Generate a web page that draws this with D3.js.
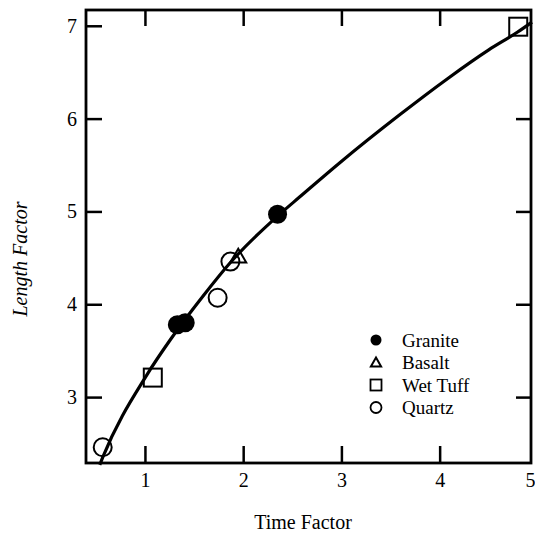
<!DOCTYPE html>
<html><head><meta charset="utf-8">
<script src="https://cdn.jsdelivr.net/npm/d3@7"></script>
<style>body{margin:0;background:#fff}svg{display:block}</style>
</head><body>
<svg id="c" width="535" height="538"></svg>
<script>
// ---- data ----
const xTicks = [1, 2, 3, 4, 5];
const yTicks = [3, 4, 5, 6, 7];
const topTicks = [1, 2, 3, 4];
const rightTicks = [3, 4, 5, 6];
const seriesNames = ["Granite", "Basalt", "Wet Tuff", "Quartz"];
const graniteX = [1.33, 1.41, 2.35];
const graniteY = [3.78, 3.80, 4.97];
const basaltX = [1.95];
const basaltY = [4.50];
const wetTuffX = [1.08, 4.80];
const wetTuffY = [3.21, 6.99];
const quartzX = [0.57, 1.74, 1.87];
const quartzY = [2.46, 4.07, 4.46];
const fitX = [0.54, 0.57, 1.02, 1.26, 1.60, 1.87, 2.35, 2.58, 2.99, 3.58, 4.08, 4.50, 4.79, 4.94];
const fitY = [2.27, 2.35, 3.24, 3.62, 4.10, 4.45, 4.95, 5.16, 5.53, 6.03, 6.43, 6.74, 6.93, 7.04];

const svg = d3.select("#c");
const x = d3.scaleLinear().domain([0.4, 4.93]).range([86, 531]);
const y = d3.scaleLinear().domain([2.29, 7.17]).range([463, 10]);
const FONT = "'Liberation Serif', 'Times New Roman', serif";

// frame
svg.append("rect").attr("x", 86).attr("y", 10).attr("width", 445).attr("height", 453)
  .attr("fill", "none").attr("stroke", "#000").attr("stroke-width", 2.8);

// bottom axis
const gb = svg.append("g").attr("transform", "translate(0,463)")
  .call(d3.axisBottom(x).tickValues(xTicks).tickSize(-17).tickPadding(10).tickFormat(d3.format("d")));
// left axis
const gl = svg.append("g").attr("transform", "translate(86,0)")
  .call(d3.axisLeft(y).tickValues(yTicks).tickSize(-16).tickPadding(9).tickFormat(d3.format("d")));
// top axis
const gt = svg.append("g").attr("transform", "translate(0,10)")
  .call(d3.axisTop(x).tickValues(topTicks).tickSize(-16).tickFormat(""));
// right axis
const gr = svg.append("g").attr("transform", "translate(531,0)")
  .call(d3.axisRight(y).tickValues(rightTicks).tickSize(-15).tickFormat(""));
[gb, gl, gt, gr].forEach(g => {
  g.select(".domain").remove();
  g.selectAll(".tick line").attr("stroke", "#000").attr("stroke-width", 2.5);
  g.selectAll(".tick text").attr("fill", "#000").attr("font-family", FONT).attr("font-size", 20);
});
const last = gb.selectAll(".tick").filter(d => d === 5);
last.select("line").remove();
last.select("text").attr("x", -8);

// axis titles
svg.append("text").attr("x", 303).attr("y", 529).attr("text-anchor", "middle")
  .attr("font-family", FONT).attr("font-size", 20).text("Time Factor");
svg.append("text").attr("transform", "translate(27,259) rotate(-90)").attr("text-anchor", "middle")
  .attr("font-family", FONT).attr("font-style", "italic").attr("font-size", 20).text("Length Factor");

// fitted curve
const fit = fitX.map((v, i) => [v, fitY[i]]);
svg.append("path").datum(fit)
  .attr("d", d3.line().x(d => x(d[0])).y(d => y(d[1])).curve(d3.curveMonotoneX))
  .attr("fill", "none").attr("stroke", "#000").attr("stroke-width", 3.2);

// markers
function pts(xs, ys) { return xs.map((v, i) => [v, ys[i]]); }
const g = svg.append("g");
g.selectAll(".q").data(pts(quartzX, quartzY)).join("circle")
  .attr("cx", d => x(d[0])).attr("cy", d => y(d[1])).attr("r", 9)
  .attr("fill", "none").attr("stroke", "#000").attr("stroke-width", 2);
g.selectAll(".w").data(pts(wetTuffX, wetTuffY)).join("rect")
  .attr("x", d => x(d[0]) - 9).attr("y", d => y(d[1]) - 9).attr("width", 18).attr("height", 18)
  .attr("fill", "none").attr("stroke", "#000").attr("stroke-width", 2);
g.selectAll(".b").data(pts(basaltX, basaltY)).join("path")
  .attr("transform", d => `translate(${x(d[0])},${y(d[1])})`)
  .attr("d", d3.symbol(d3.symbolTriangle, 110)())
  .attr("fill", "none").attr("stroke", "#000").attr("stroke-width", 2);
g.selectAll(".g").data(pts(graniteX, graniteY)).join("circle")
  .attr("cx", d => x(d[0])).attr("cy", d => y(d[1])).attr("r", 9.5)
  .attr("fill", "#000");

// legend
const lx = 376, lx2 = 402, ly0 = 340, ldy = 22.5;
const leg = svg.append("g");
seriesNames.forEach((name, i) => {
  const cy = ly0 + i * ldy;
  if (i === 0) leg.append("circle").attr("cx", lx).attr("cy", cy).attr("r", 5.5).attr("fill", "#000");
  if (i === 1) leg.append("path").attr("transform", `translate(${lx},${cy + 1})`)
    .attr("d", d3.symbol(d3.symbolTriangle, 45)()).attr("fill", "none").attr("stroke", "#000").attr("stroke-width", 2);
  if (i === 2) leg.append("rect").attr("x", lx - 5.5).attr("y", cy - 5.5).attr("width", 11).attr("height", 11)
    .attr("fill", "none").attr("stroke", "#000").attr("stroke-width", 1.8);
  if (i === 3) leg.append("circle").attr("cx", lx).attr("cy", cy).attr("r", 5.5)
    .attr("fill", "none").attr("stroke", "#000").attr("stroke-width", 1.8);
  leg.append("text").attr("x", lx2).attr("y", cy).attr("dy", "0.35em")
    .attr("font-family", FONT).attr("font-size", 19).text(name);
});
</script>
</body></html>
